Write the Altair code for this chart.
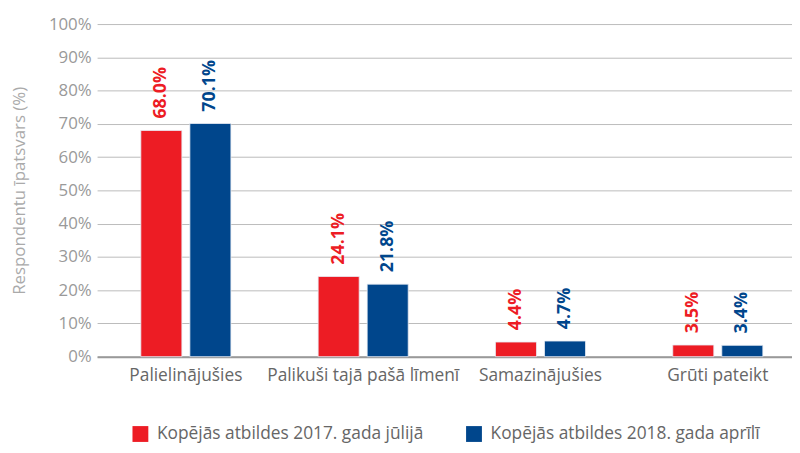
import altair as alt
import pandas as pd

categories = ["Palielinājušies", "Palikuši tajā pašā līmenī", "Samazinājušies", "Grūti pateikt"]
series = ["Kopējās atbildes 2017. gada jūlijā", "Kopējās atbildes 2018. gada aprīlī"]
values_2017 = [68.0, 24.1, 4.4, 3.5]
values_2018 = [70.1, 21.8, 4.7, 3.4]
colors = ["#ED1C24", "#00468C"]

rows = []
for i, c in enumerate(categories):
    rows.append({"cat": c, "series": series[0], "val": values_2017[i]})
    rows.append({"cat": c, "series": series[1], "val": values_2018[i]})
df = pd.DataFrame(rows)
df["label"] = df["val"].map(lambda v: f"{v:.1f}%")

font = "Open Sans"

x = alt.X("cat:N", sort=categories, title=None,
          scale=alt.Scale(paddingInner=0.492, paddingOuter=0.2056, align=0.6),
          axis=alt.Axis(labelAngle=0, labelFontSize=17.5, labelColor="#666666", labelFont=font,
                        labelPadding=10, ticks=False, domain=True, domainColor="#999999",
                        domainWidth=2, labelLimit=300, labelOverlap=False))
xo = alt.XOffset("series:N", sort=series, scale=alt.Scale(paddingInner=0.163, paddingOuter=0))
y = alt.Y("val:Q", title="Respondentu īpatsvars (%)",
          scale=alt.Scale(domain=[0, 100], nice=False),
          axis=alt.Axis(values=list(range(0, 101, 10)), labelExpr="datum.value + '%'",
                        labelFontSize=17, labelColor="#999999", labelFont=font, labelPadding=6,
                        labelOverlap=False, ticks=False, domain=False, gridColor="#BBBBBB",
                        gridWidth=1, titleFontSize=17, titleColor="#AAAAAA", titleFont=font,
                        titleFontWeight="normal", titlePadding=20))
color = alt.Color("series:N", sort=series, scale=alt.Scale(domain=series, range=colors),
                  legend=alt.Legend(title=None, orient="none", direction="horizontal",
                                    legendX=35, legendY=405, symbolType="square",
                                    symbolSize=256, symbolStrokeWidth=0, labelFontSize=17.5,
                                    labelColor="#666666", labelFont=font, labelOffset=8,
                                    columnPadding=42, labelLimit=400))

bars = alt.Chart(df).mark_bar(stroke="#E8ECF4", strokeWidth=0.8).encode(x=x, xOffset=xo, y=y, color=color)

labels = alt.Chart(df).mark_text(angle=270, align="left", baseline="middle", dx=12,
                                 fontSize=18, fontWeight="bold", font=font).encode(
    x=x, xOffset=xo, y=y, text="label:N",
    color=alt.Color("series:N", sort=series, scale=alt.Scale(domain=series, range=colors), legend=None))

chart = alt.layer(bars, labels).properties(
    width=702, height=336,
    padding={"left": 90, "top": 14, "right": 0, "bottom": 87},
    autosize=alt.AutoSizeParams(type="none"),
).configure_view(stroke=None)

chart.save("out.html", embed_options={"renderer": "svg", "actions": False})
